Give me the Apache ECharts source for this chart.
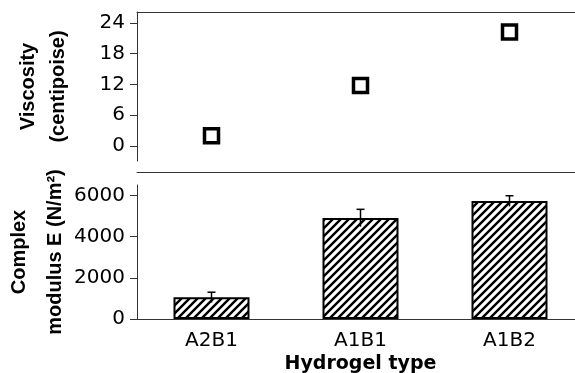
<!DOCTYPE html>
<html>
<head>
<meta charset="utf-8">
<script src="https://cdn.jsdelivr.net/npm/echarts@6/dist/echarts.min.js"></script>
<style>html,body{margin:0;padding:0;background:#fff;}#c{width:575px;height:373px;}</style>
</head>
<body>
<div id="c"></div>
<script>
var categories = ['A2B1', 'A1B1', 'A1B2'];
var viscosity = [2.0, 11.8, 22.2];
var modulus = [1050, 4900, 5720];
var modulusErr = [250, 420, 260];
var viscTicks = [0, 6, 12, 18, 24];
var modTicks = [0, 2000, 4000, 6000];

var tile = document.createElement('canvas');
tile.width = 8; tile.height = 8;
var tc = tile.getContext('2d');
tc.fillStyle = '#fff'; tc.fillRect(0, 0, 8, 8);
tc.strokeStyle = '#000'; tc.lineWidth = 2.4;
tc.beginPath();
tc.moveTo(-2, 10); tc.lineTo(10, -2);
tc.moveTo(-6, 6); tc.lineTo(6, -6);
tc.moveTo(2, 14); tc.lineTo(14, 2);
tc.stroke();

var chart = echarts.init(document.getElementById('c'), null, {renderer: 'canvas'});
var tickFont = {fontFamily: 'DejaVu Sans', fontSize: 20, color: '#000'};
function nameFont(lh) {
  return {fontFamily: 'Liberation Sans', fontSize: 20, fontWeight: 'bold', color: '#000', lineHeight: lh, align: 'center'};
}
var axisLineStyle = {color: '#333', width: 1};
function plain(v) { return String(v); }

chart.setOption({
  animation: false,
  backgroundColor: '#fff',
  grid: [
    {left: 137, right: -9, top: 12, height: 149, outerBoundsMode: 'none', containLabel: false},
    {left: 137, right: -9, top: 185, bottom: 54, outerBoundsMode: 'none', containLabel: false},
    {left: 137, right: -9, top: 172, height: 1, outerBoundsMode: 'none', containLabel: false}
  ],
  xAxis: [
    {type: 'category', gridIndex: 0, data: categories, position: 'top',
     axisLine: {show: true, onZero: false, lineStyle: axisLineStyle}, axisTick: {show: false}, axisLabel: {show: false}},
    {type: 'category', gridIndex: 1, data: categories,
     axisLine: {show: true, onZero: false, lineStyle: axisLineStyle}, axisTick: {show: false},
     axisLabel: Object.assign({margin: 12}, tickFont),
     name: 'Hydrogel type', nameLocation: 'middle', nameGap: 36, nameMoveOverlap: false,
     nameTextStyle: {fontFamily: 'DejaVu Sans', fontSize: 19, fontWeight: 'bold', color: '#000'}},
    {type: 'category', gridIndex: 2, data: categories, position: 'top',
     axisLine: {show: true, onZero: false, lineStyle: axisLineStyle}, axisTick: {show: false}, axisLabel: {show: false}}
  ],
  yAxis: [
    {type: 'value', gridIndex: 0, min: -2.9, max: 26.1,
     axisLine: {show: true, lineStyle: axisLineStyle},
     axisTick: {show: true, length: 7, lineStyle: axisLineStyle, customValues: viscTicks},
     axisLabel: Object.assign({margin: 12, customValues: viscTicks, formatter: plain}, tickFont),
     splitLine: {show: false},
     name: 'Viscosity\n(centipoise)', nameLocation: 'middle', nameRotate: 90, nameGap: 64, nameMoveOverlap: false,
     nameTextStyle: nameFont(30)},
    {type: 'value', gridIndex: 1, min: 0, max: 6500, interval: 2000,
     axisLine: {show: true, lineStyle: axisLineStyle},
     axisTick: {show: true, length: 7, lineStyle: axisLineStyle, customValues: modTicks},
     axisLabel: Object.assign({margin: 12, customValues: modTicks, formatter: plain}, tickFont),
     splitLine: {show: false},
     name: 'Complex\nmodulus E (N/m²)', nameLocation: 'middle', nameRotate: 90, nameGap: 64, nameMoveOverlap: false,
     nameTextStyle: nameFont(36)},
    {type: 'value', gridIndex: 2, show: false}
  ],
  series: [
    {type: 'scatter', xAxisIndex: 0, yAxisIndex: 0, data: viscosity,
     symbol: 'rect', symbolSize: 14,
     itemStyle: {color: '#fff', borderColor: '#000', borderWidth: 3.5, opacity: 1}},
    {type: 'bar', xAxisIndex: 1, yAxisIndex: 1, data: modulus, barWidth: 76,
     itemStyle: {color: {image: tile, repeat: 'repeat'}, borderColor: '#000', borderWidth: 2}},
    {type: 'custom', xAxisIndex: 1, yAxisIndex: 1,
     data: modulus.map(function (v, i) { return [i, v, modulusErr[i]]; }),
     z: 10,
     renderItem: function (params, api) {
       var x = api.value(0), v = api.value(1), e = api.value(2);
       var top = api.coord([x, v + e]);
       var bot = api.coord([x, v - e]);
       var st = {stroke: '#000', lineWidth: 1.5};
       return {type: 'group', children: [
         {type: 'line', shape: {x1: top[0], y1: top[1], x2: bot[0], y2: bot[1]}, style: st},
         {type: 'line', shape: {x1: top[0] - 4, y1: top[1], x2: top[0] + 4, y2: top[1]}, style: st}
       ]};
     }}
  ]
});
</script>
</body>
</html>
